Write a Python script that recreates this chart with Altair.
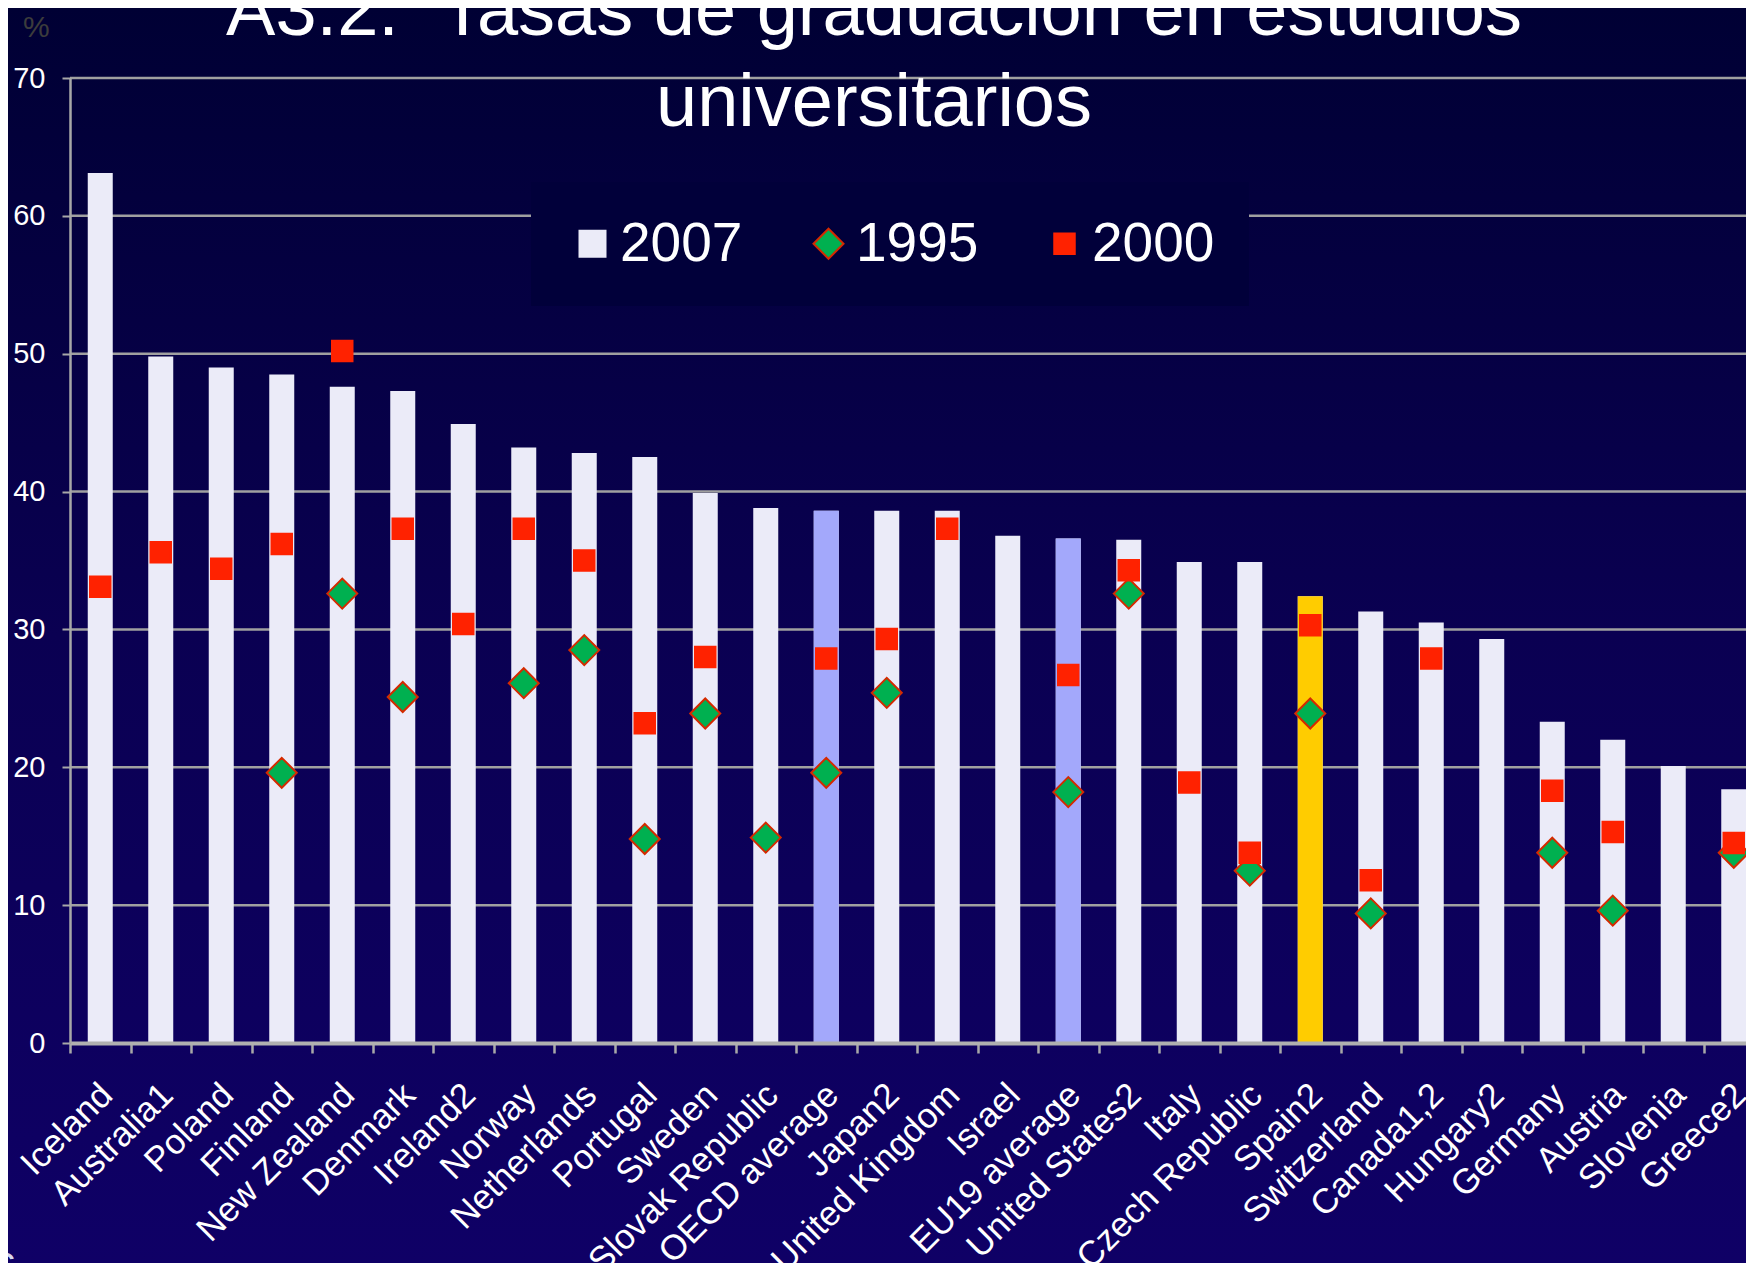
import altair as alt
import pandas as pd

categories = ["Iceland", "Australia1", "Poland", "Finland", "New Zealand", "Denmark", "Ireland2",
              "Norway", "Netherlands", "Portugal", "Sweden", "Slovak Republic", "OECD average",
              "Japan2", "United Kingdom", "Israel", "EU19 average", "United States2", "Italy",
              "Czech Republic", "Spain2", "Switzerland", "Canada1,2", "Hungary2", "Germany",
              "Austria", "Slovenia", "Greece2"]

rate_2007 = [63.1, 49.8, 49.0, 48.5, 47.6, 47.3, 44.9, 43.2, 42.8, 42.5, 39.9, 38.8, 38.6,
             38.6, 38.6, 36.8, 36.6, 36.5, 34.9, 34.9, 32.4, 31.3, 30.5, 29.3, 23.3,
             22.0, 20.1, 18.4]

rate_1995 = [None, None, None, 19.6, 32.6, 25.1, None, 26.1, 28.5, 14.8, 23.9, 14.9, 19.6,
             25.4, None, None, 18.2, 32.6, None, 12.5, 23.9, 9.4, None, None, 13.8,
             9.6, None, 13.8]

rate_2000 = [33.1, 35.6, 34.4, 36.2, 50.2, 37.3, 30.4, 37.3, 35.0, 23.2, 28.0, None, 27.9,
             29.3, 37.3, None, 26.7, 34.3, 18.9, 13.8, 30.3, 11.8, 27.9, None, 18.3,
             15.3, None, 14.5]

highlight = {"OECD average": "#A3A8FB", "EU19 average": "#A3A8FB", "Spain2": "#FFCC00"}

series_names = ["2007", "1995", "2000"]
series_colors = ["#EBEBF8", "#00B050", "#FF2200"]
series_strokes = ["#EBEBF8", "#D42A00", "#FF2200"]
series_shapes = ["square", "diamond", "square"]
series_sizes = [676, 900, 420]

grid_values = [10, 20, 30, 40, 50, 60, 70]
y_ticks = [0, 10, 20, 30, 40, 50, 60, 70]

TITLE_1 = "A3.2. \u00a0Tasas de graduación en estudios"
TITLE_2 = "universitarios"

FONT = "Liberation Sans"
PLOT_W = 1676
PLOT_H = 965
BAND_RANGE = 1694

bars = pd.DataFrame({"country": categories, "value": rate_2007, "series": "2007",
                     "hl": [highlight.get(c) for c in categories]})

rows = []
for c, v in zip(categories, rate_1995):
    if v is not None:
        rows.append({"country": c, "value": v, "series": "1995"})
for c, v in zip(categories, rate_2000):
    if v is not None:
        rows.append({"country": c, "value": v, "series": "2000"})
points = pd.DataFrame(rows)

x_enc = alt.X("country:N", sort=categories,
              scale=alt.Scale(domain=categories, range=[0, BAND_RANGE], paddingInner=0, paddingOuter=0),
              axis=alt.Axis(title=None, labelAngle=315, labelAlign="right", labelBaseline="top",
                            labelFontSize=35, labelColor="white", labelFont=FONT, labelPadding=24,
                            labelOffset=-6,
                            tickBand="extent", tickSize=10, tickWidth=2.5, tickColor="#A8A8A8",
                            domainColor="#B0B0B0", domainWidth=4, labelOverlap=False, labelLimit=400,
                            grid=False, zindex=1))
y_scale = alt.Scale(domain=[0, 70], nice=False, zero=True)
y_enc = alt.Y("value:Q", scale=y_scale,
              axis=alt.Axis(title=None, values=y_ticks, labelFontSize=29, labelColor="white",
                            labelFont=FONT, tickSize=8, tickWidth=2, tickColor="#A8A8A8",
                            domainColor="#A8A8A8", domainWidth=2.5, labelPadding=17,
                            grid=False, zindex=1))

color_scale = alt.Scale(domain=series_names, range=series_colors)
legend = alt.Legend(title=None, orient="none", legendX=461, legendY=104, direction="horizontal",
                    labelFontSize=55, labelColor="white", labelFont=FONT, fillColor="#01003a",
                    padding=34, columnPadding=58, labelOffset=0, symbolStrokeWidth=2)

bg = alt.Chart(pd.DataFrame({"a": [0]})).mark_rect(
    color=alt.Gradient(gradient="linear",
                       stops=[alt.GradientStop(color="#000034", offset=0),
                              alt.GradientStop(color="#0a0052", offset=0.5),
                              alt.GradientStop(color="#0f0066", offset=1)],
                       x1=0, x2=0, y1=0, y2=1)
).encode(x=alt.value(-62), x2=alt.value(PLOT_W), y=alt.value(-70), y2=alt.value(PLOT_H + 220))

grid = alt.Chart(pd.DataFrame({"g": grid_values})).mark_rule(color="#A0A0A0", strokeWidth=2.5).encode(
    y=alt.Y("g:Q", scale=y_scale))

bar_layer = alt.Chart(bars).mark_bar(size=25).encode(
    x=x_enc, y=y_enc, color=alt.Color("series:N", scale=color_scale, legend=legend))

hl_layer = alt.Chart(bars).transform_filter("datum.hl != null").mark_bar(size=25).encode(
    x=x_enc, y=y_enc, fill=alt.Fill("hl:N", scale=None, legend=None))

point_layer = alt.Chart(points).mark_point(filled=True, opacity=1, strokeWidth=2).encode(
    x=x_enc, y=y_enc,
    color=alt.Color("series:N", scale=color_scale, legend=legend),
    shape=alt.Shape("series:N", scale=alt.Scale(domain=series_names, range=series_shapes), legend=legend),
    size=alt.Size("series:N", scale=alt.Scale(type="ordinal", domain=series_names, range=series_sizes),
                  legend=legend),
    stroke=alt.Stroke("series:N", scale=alt.Scale(domain=series_names, range=series_strokes), legend=legend),
)

def text_layer(txt, x, y, size, color, align="center"):
    return alt.Chart(pd.DataFrame({"t": [txt]})).mark_text(
        fontSize=size, color=color, font=FONT, align=align, baseline="alphabetic"
    ).encode(x=alt.value(x), y=alt.value(y), text="t:N")

title1 = text_layer(TITLE_1, 804, -43, 74, "white")
title2 = text_layer(TITLE_2, 804, 48, 74, "white")
pct = text_layer("%", -47, -41, 30, "#3c3c3c", align="left")
page = text_layer("6", -77, 1204, 42, "#D8D8F0", align="left")

chart = alt.layer(bg, grid, bar_layer, hl_layer, point_layer, title1, title2, pct, page).properties(
    width=PLOT_W, height=PLOT_H,
    autosize=alt.AutoSizeParams(type="none"),
    padding={"left": 62, "top": 70, "right": 0, "bottom": 220},
    background="#000034",
).configure_view(stroke=None).configure(font=FONT)

chart.save("out.html", embed_options={"renderer": "svg", "actions": False})
